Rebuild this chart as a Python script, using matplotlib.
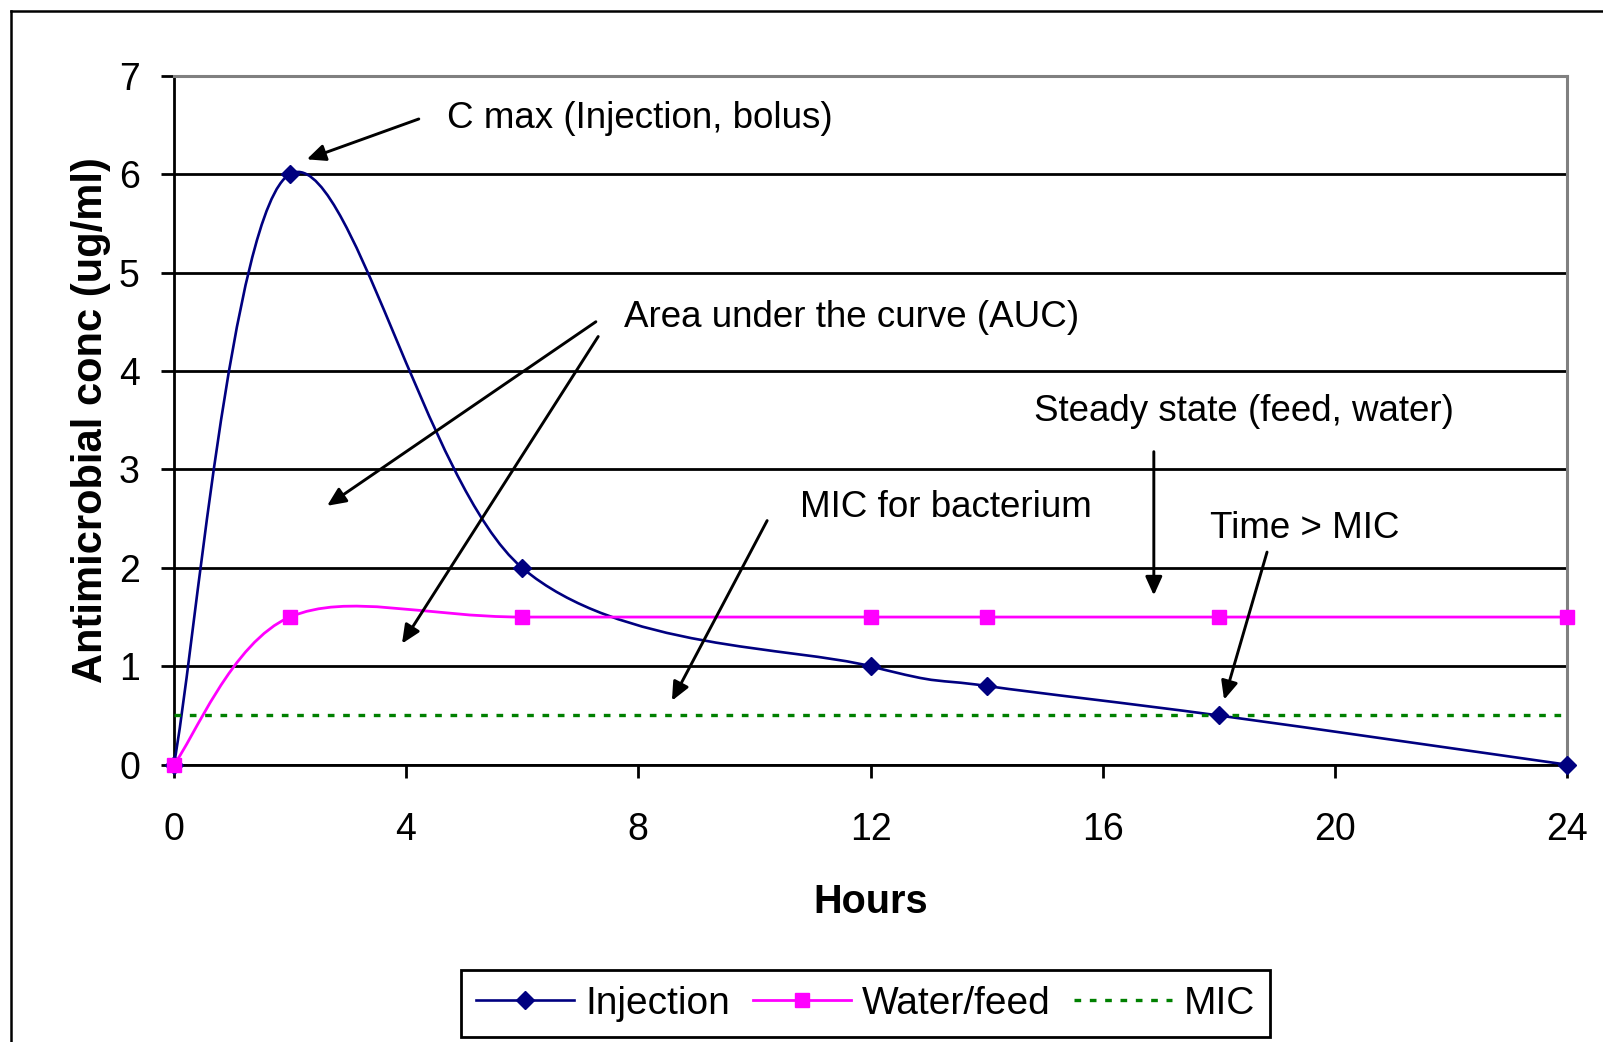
import numpy as np
import matplotlib
matplotlib.use('Agg')
import matplotlib.pyplot as plt
from matplotlib.path import Path
from matplotlib.patches import PathPatch
from matplotlib.lines import Line2D
from matplotlib.patches import ArrowStyle

plt.rcParams['font.family'] = ['Liberation Sans', 'DejaVu Sans']

# ---------------- data ----------------
hours = [0, 2, 6, 12, 14, 18, 24]
injection = [0, 6, 2, 1, 0.8, 0.5, 0]
water_feed = [0, 1.5, 1.5, 1.5, 1.5, 1.5, 1.5]
mic_level = 0.5
x_ticks = [0, 4, 8, 12, 16, 20, 24]
y_ticks = [0, 1, 2, 3, 4, 5, 6, 7]
series_names = ['Injection', 'Water/feed', 'MIC']
x_label = 'Hours'
y_label = 'Antimicrobial conc (ug/ml)'

notes = ['C max (Injection, bolus)', 'Area under the curve (AUC)',
         'Steady state (feed, water)', 'MIC for bacterium', 'Time > MIC']
note_xy = [(4.70, 6.56), (7.76, 4.54), (14.81, 3.59), (10.78, 2.61), (17.85, 2.40)]
arrow_tails = [(4.22, 6.56), (7.27, 4.50), (7.31, 4.35), (16.88, 3.18), (10.22, 2.48), (18.83, 2.16)]
arrow_heads = [(2.29, 6.15), (2.64, 2.63), (3.93, 1.23), (16.88, 1.72), (8.58, 0.65), (18.09, 0.66)]

NAVY = '#000080'
MAGENTA = '#FF00FF'
GREEN = '#008000'
FS = 26.5
MIC_STYLE = (0, (2.0, 2.6))


def smooth_path(xs, ys):
    """Excel-style smoothed line as cubic Bezier segments through the points."""
    pts = np.column_stack([xs, ys]).astype(float)
    n = len(pts)
    verts = [pts[0]]
    codes = [Path.MOVETO]
    for i in range(n - 1):
        p0 = pts[i - 1] if i > 0 else pts[i]
        p1 = pts[i]
        p2 = pts[i + 1]
        p3 = pts[i + 2] if i + 2 < n else pts[i + 1]
        c1 = p1 + (p2 - p0) / 6.0
        c2 = p2 - (p3 - p1) / 6.0
        verts += [c1, c2, p2]
        codes += [Path.CURVE4] * 3
    return Path(verts, codes)


fig = plt.figure(figsize=(16.03, 10.42), dpi=100)
ax = fig.add_axes([0.10842, 0.26612, 0.86925, 0.66127])

# outer chart frame (left and top edges visible)
fig.add_artist(Line2D([10.5 / 1603, 10.5 / 1603], [0, 1 - 10.5 / 1042],
                      transform=fig.transFigure, color='black', lw=1.8))
fig.add_artist(Line2D([10.5 / 1603, 1], [1 - 10.5 / 1042, 1 - 10.5 / 1042],
                      transform=fig.transFigure, color='black', lw=1.8))

ax.set_xlim(0, 24)
ax.set_ylim(0, 7)
ax.set_xticks(x_ticks)
ax.set_yticks(y_ticks)
ax.yaxis.grid(True, color='black', lw=2.0)
ax.set_axisbelow(True)

for s in ['left', 'bottom']:
    ax.spines[s].set_color('black')
    ax.spines[s].set_linewidth(2.0)
for s in ['top', 'right']:
    ax.spines[s].set_color('#808080')
    ax.spines[s].set_linewidth(2.2)

ax.tick_params(direction='out', length=9.4, width=2.0, labelsize=27, color='black')
ax.tick_params(axis='y', pad=15)
ax.tick_params(axis='x', pad=25)

# series
ax.add_patch(PathPatch(smooth_path(hours, injection), facecolor='none', edgecolor=NAVY,
                       lw=1.9, zorder=3, joinstyle='round', capstyle='round'))
ax.plot(hours, injection, ls='none', marker='D', ms=9.5, color=NAVY, clip_on=False, zorder=4)

ax.add_patch(PathPatch(smooth_path(hours, water_feed), facecolor='none', edgecolor=MAGENTA,
                       lw=2.0, zorder=3, joinstyle='round', capstyle='round'))
ax.plot(hours, water_feed, ls='none', marker='s', ms=10.5, color=MAGENTA, clip_on=False, zorder=4)

ax.axhline(mic_level, color=GREEN, lw=2.4, ls=MIC_STYLE, zorder=3)

# annotations
for txt, (tx, ty) in zip(notes, note_xy):
    ax.text(tx, ty, txt, fontsize=FS, ha='left', va='center', color='black', zorder=6)
astyle = ArrowStyle('-|>', head_length=0.4, head_width=0.18)
for tail, head in zip(arrow_tails, arrow_heads):
    ax.annotate('', xy=head, xytext=tail,
                arrowprops=dict(arrowstyle=astyle, mutation_scale=28, lw=2.1,
                                color='black', shrinkA=0, shrinkB=0), zorder=6)

# axis labels
ax.set_xlabel(x_label, fontsize=28.5, fontweight='bold')
ax.xaxis.set_label_coords(0.5, -0.172)
ax.set_ylabel(y_label, fontsize=30, fontweight='bold')
ax.yaxis.set_label_coords(-0.045, 0.5)

# legend
handles = [
    Line2D([], [], color=NAVY, lw=1.9, marker='D', ms=9.5),
    Line2D([], [], color=MAGENTA, lw=2.0, marker='s', ms=10.5),
    Line2D([], [], color=GREEN, lw=2.4, ls=MIC_STYLE),
]
leg = fig.legend(handles, series_names, loc='center', bbox_to_anchor=(865.5 / 1603, 1 - 1003.5 / 1042),
                 ncol=3, fontsize=28, frameon=True, fancybox=False, shadow=False,
                 handlelength=2.5, handletextpad=0.3, columnspacing=0.6,
                 borderpad=0.4, borderaxespad=0, numpoints=1)
fr = leg.get_frame()
fr.set_edgecolor('black')
fr.set_linewidth(2.0)
fr.set_facecolor('white')
fr.set_alpha(1)

fig.savefig('out.png', dpi=100)
